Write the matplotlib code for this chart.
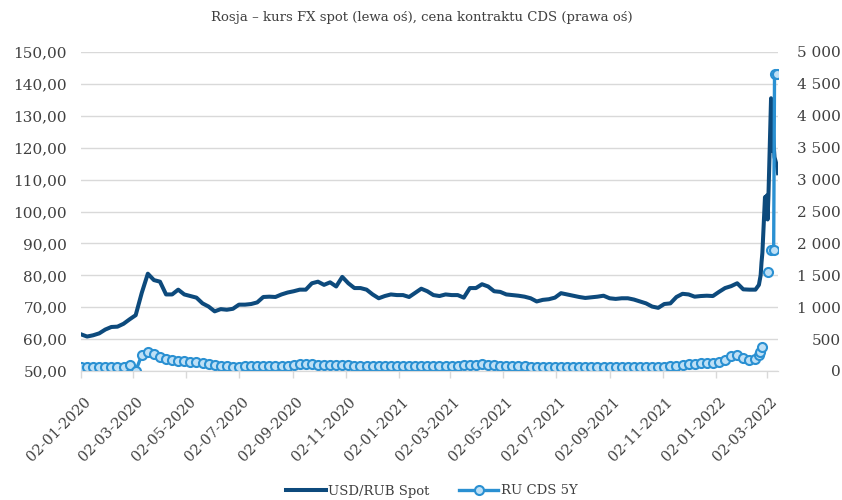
import matplotlib
matplotlib.use("Agg")
import matplotlib.pyplot as plt
import matplotlib.dates as mdates
import matplotlib.transforms as mtransforms
from matplotlib.lines import Line2D
from matplotlib.ticker import FuncFormatter, MultipleLocator
import numpy as np
import pandas as pd

plt.rcParams['font.family'] = ['DejaVu Serif']

# USD/RUB, co tydzien od 02-01-2020, potem dziennie od 21-02-2022
fx_weekly = [
    61.5, 60.8, 61.2, 61.8, 63.0, 63.8, 63.9, 64.8, 66.2, 67.5,
    74.5, 80.5, 78.5, 78.0, 74.0, 74.0, 75.5, 74.0, 73.5, 73.0,
    71.2, 70.2, 68.7, 69.4, 69.2, 69.5, 70.8, 70.8, 71.0, 71.5,
    73.2, 73.3, 73.2, 74.0, 74.6, 75.0, 75.5, 75.5, 77.5, 78.0,
    77.0, 77.8, 76.5, 79.5, 77.5, 76.0, 76.0, 75.5, 74.0, 72.8,
    73.5, 74.0, 73.8, 73.8, 73.2, 74.5, 75.8, 75.0, 73.8, 73.5,
    74.0, 73.8, 73.8, 73.0, 76.0, 76.0, 77.2, 76.5, 75.0, 74.8,
    74.0, 73.8, 73.6, 73.3, 72.8, 71.8, 72.3, 72.5, 73.0, 74.4,
    74.0, 73.6, 73.2, 72.9, 73.1, 73.3, 73.6, 72.8, 72.6, 72.8,
    72.8, 72.4, 71.8, 71.2, 70.2, 69.8, 71.0, 71.2, 73.2, 74.2,
    74.0, 73.3, 73.5, 73.6, 73.5, 74.8, 76.0, 76.6, 77.5, 75.6,
    75.5, 75.5,
]
fx_tail_dates = ['2022-02-21', '2022-02-22', '2022-02-23', '2022-02-24', '2022-02-25',
                 '2022-02-28', '2022-03-01', '2022-03-02', '2022-03-03', '2022-03-04',
                 '2022-03-07', '2022-03-08', '2022-03-09', '2022-03-10', '2022-03-11',
                 '2022-03-14', '2022-03-15']
fx_tail = [77.0, 78.5, 80.0, 84.0, 87.0,
           104.5, 100.0, 105.0, 97.5, 105.0,
           135.5, 119.0, 126.0, 121.0, 117.0,
           114.0, 112.0]

# RU CDS 5Y (pb), te same tygodnie
cds_weekly = [
    60, 58, 57, 58, 57, 56, 58, 62, 95, 0,
    250, 300, 270, 220, 190, 170, 160, 150, 145, 140,
    130, 115, 95, 80, 72, 70,
    70, 72, 72, 74, 75, 76, 78, 80, 85,
    100, 110, 112, 108, 100, 95,
    95, 92, 95, 90, 85, 80, 78,
    76, 75, 74, 73, 72, 72, 74, 76, 78, 78, 76, 75, 76,
    78, 82, 88, 95, 100, 104, 98, 92, 86, 80,
    76, 74, 72, 70, 70, 68, 68, 68, 68, 66, 66, 66, 65, 65, 66, 66,
    65, 64, 64, 65, 66, 66, 68, 70, 70, 70, 72,
    78, 90, 105, 115, 125, 130, 130, 140, 170, 230, 250, 200, 180, 190,
]
cds_tail_dates = ['2022-02-21', '2022-02-22', '2022-02-24', '2022-02-28', '2022-03-03',
                  '2022-03-04', '2022-03-07', '2022-03-10', '2022-03-11', '2022-03-14']
cds_tail = [250, 300, 375, np.nan, 1550, np.nan, 1900, 1900, 4650, 4650]

weeks = pd.date_range('2020-01-02', periods=len(fx_weekly), freq='7D')
fx_dates = weeks.append(pd.to_datetime(fx_tail_dates))
fx_values = fx_weekly + fx_tail
cds_dates = weeks.append(pd.to_datetime(cds_tail_dates))
cds_values = cds_weekly + cds_tail

fx_color = '#0D4A7C'
cds_color = '#2A90D2'
cds_fill = '#BEE0F6'
grid_color = '#D9D9D9'
text_color = '#404040'

fig = plt.figure(figsize=(8.42, 5.0), dpi=100)
ax = fig.add_axes([81 / 842, 1 - 371 / 500, (778 - 81) / 842, (371 - 52) / 500])
ax2 = ax.twinx()

ax.plot(fx_dates, fx_values, color=fx_color, lw=2.9, solid_joinstyle='round')
ax2.plot(cds_dates, cds_values, color=cds_color, lw=2.4, marker='o', markersize=6.5,
         markerfacecolor=cds_fill, markeredgecolor=cds_color, markeredgewidth=1.5)

ax.set_ylim(50, 150)
ax2.set_ylim(0, 5000)
ax.set_xlim(pd.Timestamp('2020-01-02'), pd.Timestamp('2022-03-15'))

ax.yaxis.set_major_locator(MultipleLocator(10))
ax.yaxis.set_major_formatter(FuncFormatter(lambda v, p: f"{v:.2f}".replace('.', ',')))
ax2.yaxis.set_major_locator(MultipleLocator(500))
ax2.yaxis.set_major_formatter(FuncFormatter(lambda v, p: f"{v:,.0f}".replace(',', '\u00a0')))

ax.grid(axis='y', color=grid_color, lw=1)
ax.set_axisbelow(True)

ticks = pd.date_range('2020-01-01', '2022-03-01', freq='2MS') + pd.Timedelta(days=1)
ax.set_xticks(ticks)
ax.xaxis.set_major_formatter(mdates.DateFormatter('%d-%m-%Y'))
ax.tick_params(axis='x', length=5, color=grid_color, width=1, pad=12, labelsize=10.5,
               labelcolor=text_color)
shift = mtransforms.ScaledTranslation(3 / 100, 0, fig.dpi_scale_trans)
for lab in ax.get_xticklabels():
    lab.set_rotation(45)
    lab.set_ha('right')
    lab.set_va('top')
    lab.set_rotation_mode('anchor')
    lab.set_transform(lab.get_transform() + shift)

ax.tick_params(axis='y', length=0, pad=10, labelsize=11, labelcolor=text_color)
ax2.tick_params(axis='y', length=0, pad=45, labelsize=11, labelcolor=text_color)
for lab in ax2.get_yticklabels():
    lab.set_ha('right')

for a in (ax, ax2):
    for s in ('top', 'left', 'right'):
        a.spines[s].set_visible(False)
    a.spines['bottom'].set_color(grid_color)

fig.text(422 / 842, 1 - 18 / 500, 'Rosja \u2013 kurs FX spot (lewa oś), cena kontraktu CDS (prawa oś)',
         ha='center', va='center', fontsize=9.5, color=text_color)

handles = [
    Line2D([], [], color=fx_color, lw=2.9),
    Line2D([], [], color=cds_color, lw=2.4, marker='o', markersize=6.5,
           markerfacecolor=cds_fill, markeredgecolor=cds_color, markeredgewidth=1.5),
]
fig.legend(handles, ['USD/RUB Spot', 'RU CDS 5Y'], loc='center', ncol=2,
           bbox_to_anchor=(432 / 842, 1 - 491 / 500), frameon=False, fontsize=9.5,
           handlelength=3.0, handletextpad=0.2, columnspacing=2.2, labelcolor=text_color)

fig.savefig('out.png', dpi=100)
